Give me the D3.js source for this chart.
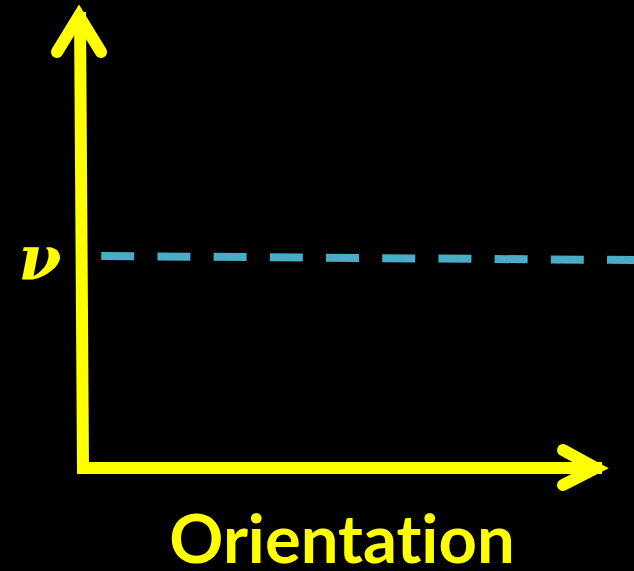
<!DOCTYPE html>
<html lang="en">
<head>
  <meta charset="UTF-8">
  <title>Orientation vs nu</title>
  <script src="https://d3js.org/d3.v7.min.js"></script>
  <style>
    body {
      margin: 0;
      background-color: #000;
      overflow: hidden;
    }
    svg {
      display: block;
      background-color: #000;
    }
  </style>
</head>
<body>
  <svg></svg>
  <script>
    // Data: the constant level nu across orientation (drawn dashed)
    const orientation = [0.035, 1.06];
    const nuLevel = [0.469, 0.460];
    const xLabel = "Orientation";
    const yLabel = "\u03BD";

    const width = 634, height = 571;
    const yellow = "#ffff00";
    const cyan = "#4bacc6";

    const svg = d3.select("svg")
      .attr("width", width)
      .attr("height", height);

    // Set up scales (plot area between the axis corner and the arrows)
    const x = d3.scaleLinear().domain([0, 1]).range([83, 604]);
    const y = d3.scaleLinear().domain([0, 1]).range([468, 16]);

    const line = d3.line().x(d => d[0]).y(d => d[1]);

    // Dashed nu line
    svg.append("path")
      .datum(orientation.map((o, i) => [x(o), y(nuLevel[i])]))
      .attr("d", line)
      .attr("fill", "none")
      .attr("stroke", cyan)
      .attr("stroke-width", 8)
      .attr("stroke-dasharray", "33 23.2");

    // Axes: shafts
    svg.append("path")
      .datum([[x(0) - 3, y(1) - 4], [x(0), y(0)], [x(1) - 2, y(0)]])
      .attr("d", line)
      .attr("fill", "none")
      .attr("stroke", yellow)
      .attr("stroke-width", 12)
      .attr("stroke-linejoin", "miter");

    // Arrow heads
    const heads = [
      [[x(0) - 26, y(1) + 36], [x(0) - 4, y(1)], [x(0) + 18, y(1) + 36]],
      [[x(1) - 41, y(0) - 18], [x(1) - 8, y(0)], [x(1) - 41, y(0) + 17]]
    ];
    svg.selectAll(".head")
      .data(heads)
      .join("path")
      .attr("class", "head")
      .attr("d", line)
      .attr("fill", "none")
      .attr("stroke", yellow)
      .attr("stroke-width", 12)
      .attr("stroke-linecap", "round")
      .attr("stroke-linejoin", "miter")
      .attr("stroke-miterlimit", 10);

    // Labels
    svg.append("text")
      .attr("x", 40)
      .attr("y", 279)
      .attr("text-anchor", "middle")
      .style("font-family", "'DejaVu Serif', serif")
      .style("font-style", "italic")
      .style("font-weight", "bold")
      .style("font-size", "62px")
      .attr("fill", yellow)
      .text(yLabel);

    svg.append("text")
      .attr("x", 342)
      .attr("y", 563)
      .attr("text-anchor", "middle")
      .style("font-family", "Lato, sans-serif")
      .style("font-weight", "bold")
      .style("font-size", "67px")
      .style("font-variant-ligatures", "none")
      .attr("fill", yellow)
      .text(xLabel);
  </script>
</body>
</html>
